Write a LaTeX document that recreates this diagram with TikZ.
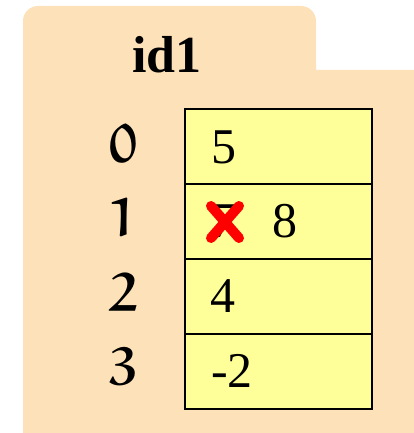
\documentclass[tikz,border=0pt]{standalone}
\usepackage{amsmath}
\usepackage{amssymb}
\usepackage{fontspec}
\setmainfont{Liberation Serif}
\usepackage{tikz}

\DeclareMathAlphabet{\matheul}{U}{eur}{b}{n}
\definecolor{folder}{HTML}{FDE1B9}
\definecolor{cellyellow}{HTML}{FFFF99}
\tikzset{
  cell/.style={draw,line width=2,fill=cellyellow,minimum width=187,minimum height=75,inner sep=0,anchor=north west},
  val/.style={anchor=base west,inner sep=0,font=\fontsize{50}{60}\selectfont},
  idx/.style={anchor=base,inner sep=0,font=\fontsize{54}{60}\selectfont}
}

\begin{document}
\begin{tikzpicture}[x=1pt,y=-1pt]
    \useasboundingbox (0,0) rectangle (414,433);
    % folder
    \fill[folder] (23,433) [rounded corners=15] -- (23,6) -- (316,6) [sharp corners] -- (316,70) -- (414,70) -- (414,433) -- cycle;
    \node[anchor=base,inner sep=0,font=\fontsize{52}{60}\selectfont\bfseries] (name) at (167,73) {id1};
    % cells
    \node[cell] (c0) at (184,108) {};
    \node[cell] (c1) at (184,183) {};
    \node[cell] (c2) at (184,258) {};
    \node[cell] (c3) at (184,333) {};
    % indices
    \node[idx] (i0) at (123,162) {$\matheul{0}$};
    \node[idx] (i1) at (123,236) {$\matheul{1}$};
    \node[idx] (i2) at (123,311) {$\matheul{2}$};
    \node[idx] (i3) at (123,385) {$\matheul{3}$};
    % values
    \node[val] (v0) at (211,163) {5};
    \node[val] (v1) at (211,237) {7};
    \node[val] (v1b) at (272,237) {8};
    \node[val] (v2) at (210,312) {4};
    \node[val] (v3) at (211,387) {-2};
    % cross out
    \coordinate (xa) at (211,206);
    \coordinate (xb) at (239,238);
    \coordinate (xc) at (239,206);
    \coordinate (xd) at (211,238);
    \draw[red,line width=10,line cap=round] (xa) -- (xb) (xc) -- (xd);
\end{tikzpicture}
\end{document}
